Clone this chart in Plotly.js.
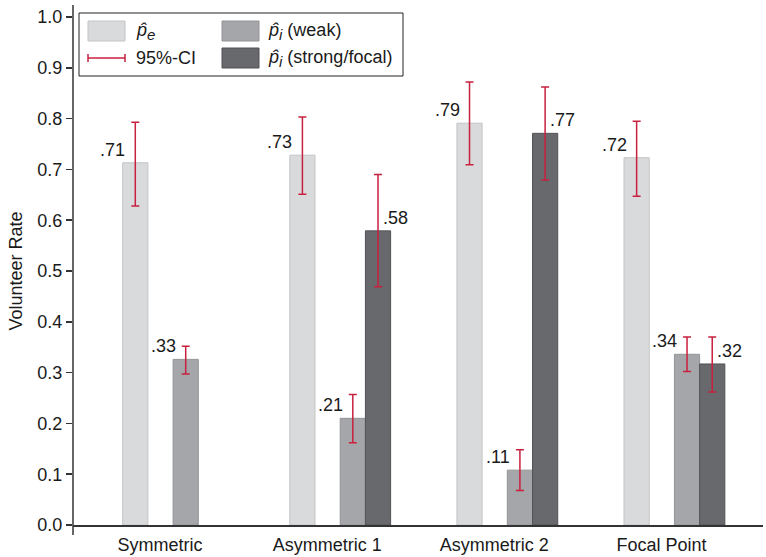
<!DOCTYPE html>
<html>
<head>
<meta charset="utf-8">
<script src="https://cdn.plot.ly/plotly-3.0.1.min.js"></script>
<style>html,body{margin:0;padding:0;background:#fff;}#chart{width:766px;height:557px;}</style>
</head>
<body>
<div id="chart"></div>
<script>
// ---- data ----
const categories = ['Symmetric', 'Asymmetric 1', 'Asymmetric 2', 'Focal Point'];
const peValues   = [0.713, 0.728, 0.791, 0.723];
const peUpper    = [0.793, 0.803, 0.872, 0.795];
const peLower    = [0.628, 0.651, 0.709, 0.647];
const weakValues = [0.326, 0.210, 0.108, 0.336];
const weakUpper  = [0.352, 0.257, 0.148, 0.370];
const weakLower  = [0.297, 0.162, 0.068, 0.302];
const strongValues = [null, 0.579, 0.771, 0.317];
const strongUpper  = [null, 0.690, 0.862, 0.370];
const strongLower  = [null, 0.469, 0.679, 0.262];
const yTickValues = [0, 0.1, 0.2, 0.3, 0.4, 0.5, 0.6, 0.7, 0.8, 0.9, 1.0];
const legendLabels = {
  pe: '<i>p\u0302</i><sub><span style="font-size:15px"><i>e</i></span></sub>',
  weak: '<i>p\u0302</i><sub><span style="font-size:15px"><i>i</i></span></sub> (weak)',
  ci: '95%-CI',
  strong: '<i>p\u0302</i><sub><span style="font-size:15px"><i>i</i></span></sub> (strong/focal)'
};

// ---- styling / layout constants ----
const W = 766, H = 557;
const M = {l: 73, r: 3, t: 17, b: 32};
const PW = W - M.l - M.r, PH = H - M.t - M.b;
const XR = [-0.599, 3.530];
const SLOT = 0.1508;
const FONT = 'Liberation Sans, Arial, Helvetica, sans-serif';
const TXT = '#1a1a1a';
const AX = '#333333';
const CI = '#c8203f';
const C_PE = '#d9dadc', L_PE = '#c3c4c6';
const C_WK = '#a5a6a9', L_WK = '#939497';
const C_ST = '#68696c', L_ST = '#525356';

const px2x = p => (p - M.l) / PW;
const py2y = p => (H - M.b - p) / PH;
const diff = (a, b) => a.map((v, i) => v == null ? null : +(v - b[i]).toFixed(4));
const lab = v => v.toFixed(2).replace(/^0/, '');

function barTrace(name, y, up, lo, fill, line, offsetSlots) {
  return {
    type: 'bar', name: name, x: categories, y: y,
    offset: offsetSlots * SLOT, width: SLOT,
    marker: {color: fill, line: {color: line, width: 1}},
    error_y: {type: 'data', symmetric: false,
      array: diff(up, y), arrayminus: diff(y, lo),
      color: CI, thickness: 1.5, width: 4},
    showlegend: false, hoverinfo: 'skip'
  };
}

const traces = [
  barTrace('pe', peValues, peUpper, peLower, C_PE, L_PE, -2),
  barTrace('weak', weakValues, weakUpper, weakLower, C_WK, L_WK, 0),
  barTrace('strong', strongValues, strongUpper, strongLower, C_ST, L_ST, 1)
];

const annotations = [];
function valueLabels(vals, centerSlots, side) {
  vals.forEach((v, i) => {
    if (v == null) return;
    annotations.push({
      x: i + centerSlots * SLOT, y: v, xref: 'x', yref: 'y',
      text: lab(v), showarrow: false,
      xanchor: side === 'left' ? 'right' : 'left', yanchor: 'bottom',
      xshift: side === 'left' ? -8 : 3, yshift: 1,
      font: {family: FONT, size: 18, color: TXT}
    });
  });
}
valueLabels(peValues, -1.5, 'left');
valueLabels(weakValues, 0.5, 'left');
valueLabels(strongValues, 1.5, 'right');

// ---- custom legend ----
const shapes = [];
// y axis line extending beyond the plot area
shapes.push({type: 'line', xref: 'paper', yref: 'paper', x0: 0, x1: 0,
  y0: py2y(535), y1: py2y(5), line: {color: AX, width: 1.5}, layer: 'above'});
// legend frame
shapes.push({type: 'rect', xref: 'paper', yref: 'paper',
  x0: px2x(79), x1: px2x(403), y0: py2y(76), y1: py2y(13),
  line: {color: '#222', width: 1}, fillcolor: 'rgba(255,255,255,0)'});
function swatch(x0, y0, fill, line) {
  shapes.push({type: 'rect', xref: 'paper', yref: 'paper',
    x0: px2x(x0), x1: px2x(x0 + 37), y0: py2y(y0 + 20), y1: py2y(y0),
    fillcolor: fill, line: {color: line, width: 1}});
}
swatch(88, 21, C_PE, L_PE);
swatch(222, 21, C_WK, L_WK);
swatch(222, 48, C_ST, L_ST);
// CI symbol
shapes.push({type: 'line', xref: 'paper', yref: 'paper', x0: px2x(88), x1: px2x(125),
  y0: py2y(58), y1: py2y(58), line: {color: CI, width: 1.5}});
[88, 125].forEach(px => shapes.push({type: 'line', xref: 'paper', yref: 'paper',
  x0: px2x(px), x1: px2x(px), y0: py2y(54), y1: py2y(62), line: {color: CI, width: 1.5}}));

function legText(px, py, t) {
  annotations.push({x: px2x(px), y: py2y(py), xref: 'paper', yref: 'paper',
    text: t, showarrow: false, xanchor: 'left', yanchor: 'middle',
    font: {family: FONT, size: 18, color: TXT}});
}
legText(134, 32, legendLabels.pe);
legText(266, 32, legendLabels.weak);
legText(134, 58, legendLabels.ci);
legText(266, 59, legendLabels.strong);

const layout = {
  width: W, height: H,
  margin: M,
  paper_bgcolor: '#fff', plot_bgcolor: '#fff',
  font: {family: FONT, size: 18, color: TXT},
  barmode: 'group',
  xaxis: {
    type: 'category', range: XR, fixedrange: true,
    showline: true, linecolor: AX, linewidth: 1.5,
    ticks: '', showgrid: false, zeroline: false,
    ticklabelshift: -13, ticklabelstandoff: 3,
    tickfont: {family: FONT, size: 18, color: TXT}
  },
  yaxis: {
    range: [0, 1], tickvals: yTickValues, tickformat: '.1f',
    showline: false, showgrid: false, zeroline: false,
    ticks: 'outside', ticklen: 6, tickwidth: 1.5, tickcolor: AX,
    tickfont: {family: FONT, size: 18, color: TXT},
    title: {text: 'Volunteer Rate', font: {family: FONT, size: 18, color: TXT}, standoff: 10}
  },
  shapes: shapes,
  annotations: annotations,
  showlegend: false
};

Plotly.newPlot('chart', traces, layout, {displayModeBar: false, staticPlot: true});
</script>
</body>
</html>
